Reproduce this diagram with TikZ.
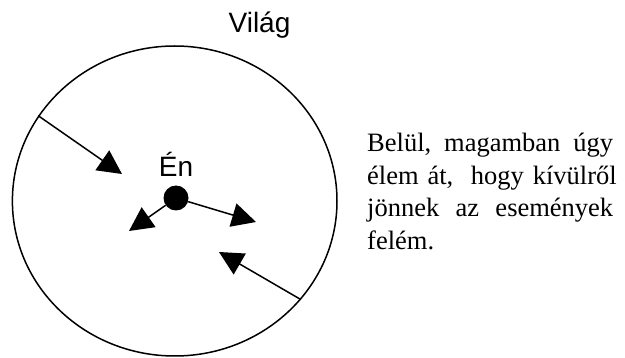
\documentclass[tikz,border=0pt]{standalone}
\usepackage{fontspec}
\setmainfont{Liberation Serif}
\setsansfont{Liberation Sans}
\usepackage{tikz}
\usetikzlibrary{arrows.meta, shapes.geometric}

\begin{document}
\begin{tikzpicture}[
  x=1pt, y=-1pt,
  world/.style={draw, ellipse, line width=1.5pt, inner sep=0pt,
                minimum width=324.6pt, minimum height=310pt},
  self/.style={circle, fill=black, inner sep=0pt, minimum size=25pt},
  lbl/.style={font=\sffamily\fontsize{28}{30}\selectfont, inner sep=0pt, anchor=base},
  body/.style={font=\rmfamily\fontsize{26.5}{32.5}\selectfont, inner sep=0pt,
               text width=246pt, align=left, anchor=base west},
  arr/.style={-{Triangle[length=24pt, width=24pt]}, line width=1.5pt}
]
\useasboundingbox (0,0) rectangle (625,358);

\node[world] (vilag) at (174.7,201) {};
\node[lbl] (vilaglbl) at (259.5,33) {Világ};
\node[self] (en) at (176,198) {};
\node[lbl] (enlbl) at (176,177) {Én};

\coordinate (tipa) at (122,174);
\coordinate (tipb) at (129,231);
\coordinate (tipc) at (256,222);
\coordinate (tipd) at (219,252);

\draw[arr] (vilag.148.7) -- (tipa);
\draw[arr] (en) -- (tipb);
\draw[arr] (en) -- (tipc);
\draw[arr] (vilag.-38.9) -- (tipd);

\node[body] (szoveg) at (367,152) {%
  \makebox[246pt]{Belül,\hfill magamban\hfill úgy}\\
  \makebox[246pt][s]{élem át,\ \ hogy kívülről}\\
  \makebox[246pt]{jönnek\hfill az\hfill események}\\
  felém.};
\end{tikzpicture}
\end{document}
